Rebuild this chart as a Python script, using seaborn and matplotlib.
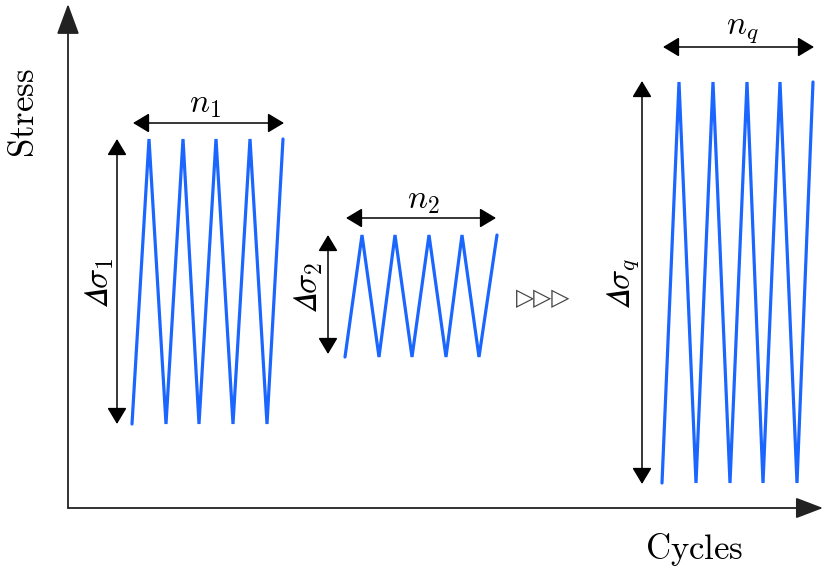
import matplotlib
matplotlib.use("Agg")
import matplotlib.pyplot as plt
import seaborn as sns
import pandas as pd
from matplotlib.patches import FancyArrowPatch

# ---- data (cycle position, stress level) ----
block1_x = [132, 149, 166, 183, 199, 216, 233, 250, 267, 283]
block1_y = [148, 433, 148, 433, 148, 433, 148, 433, 148, 433]
block2_x = [345, 362, 379, 395, 412, 429, 446, 462, 479, 497]
block2_y = [215, 337, 215, 337, 215, 337, 215, 337, 215, 337]
block3_x = [662, 679, 696, 713, 730, 747, 763, 780, 797, 813]
block3_y = [89, 490, 89, 490, 89, 490, 89, 490, 89, 490]
block_names = ["1", "2", "q"]

sns.set_theme(style="white")
plt.rcParams["mathtext.fontset"] = "cm"

W, H = 824, 572
fig = plt.figure(figsize=(W / 100, H / 100), dpi=100)
ax = fig.add_axes([0, 0, 1, 1])
ax.set_xlim(0, W)
ax.set_ylim(0, H)
ax.axis("off")

frames = []
for name, xs, ys in zip(block_names, [block1_x, block2_x, block3_x],
                        [block1_y, block2_y, block3_y]):
    frames.append(pd.DataFrame({"cycle": xs, "stress": ys, "block": name,
                                "order": range(len(xs))}))
df = pd.concat(frames, ignore_index=True)

blue = "#1a66ff"
for name in block_names:
    sub = df[df.block == name]
    sns.lineplot(data=sub, x="cycle", y="stress", sort=False, ax=ax,
                 color=blue, lw=2.3, legend=False, solid_joinstyle="miter")


def arrow(p0, p1, style, lw, hl, hw, color="black"):
    a = FancyArrowPatch(p0, p1, arrowstyle=f"{style},head_length={hl},head_width={hw}",
                        mutation_scale=1, lw=lw, color=color,
                        shrinkA=0, shrinkB=0, zorder=3)
    ax.add_patch(a)


def Y(py):
    return H - py


# axes arrows
arrow((68, Y(508)), (68, Y(4)), "-|>", 1.3, 19, 7, "#222222")
arrow((68, Y(508)), (823, Y(508)), "-|>", 1.3, 17, 6.5, "#222222")

# n arrows
arrow((133, Y(123)), (284, Y(123)), "<|-|>", 1.1, 10, 6)
arrow((346, Y(218)), (496, Y(218)), "<|-|>", 1.1, 10, 6)
arrow((663, Y(47)), (814, Y(47)), "<|-|>", 1.1, 10, 6)
# delta sigma arrows
arrow((117, Y(139)), (117, Y(424)), "<|-|>", 1.1, 10, 6)
arrow((328, Y(235)), (328, Y(354)), "<|-|>", 1.1, 10, 6)
arrow((642, Y(81)), (642, Y(484)), "<|-|>", 1.1, 10, 6)

fs = 24
k = "black"
D = "\U0001D6E5"  # mathematical italic capital delta
ax.text(205, Y(103), r"$n_1$", fontsize=fs, ha="center", va="center", color=k)
ax.text(423, Y(200), r"$n_2$", fontsize=fs, ha="center", va="center", color=k)
ax.text(742, Y(29), r"$n_q$", fontsize=fs, ha="center", va="center", color=k)
ax.text(100, Y(283), "$" + D + r"\sigma_1$", fontsize=fs, ha="center",
        va="center", rotation=90, color=k)
ax.text(309, Y(287), "$" + D + r"\sigma_2$", fontsize=fs, ha="center",
        va="center", rotation=90, color=k)
ax.text(623, Y(283), "$" + D + r"\sigma_q$", fontsize=fs, ha="center",
        va="center", rotation=90, color=k)

ax.text(24, Y(113), r"$\mathrm{Stress}$", fontsize=fs + 1, ha="center", va="center",
        rotation=90, color=k)
ax.text(694, Y(549), r"$\mathrm{Cycles}$", fontsize=fs + 1, ha="center", va="center",
        color=k)

ax.text(543, Y(298), "▷▷▷", fontsize=17, ha="center", va="center",
        color="#444444", family=["DejaVu Sans"])

fig.savefig("out.png", dpi=100, facecolor="white")
